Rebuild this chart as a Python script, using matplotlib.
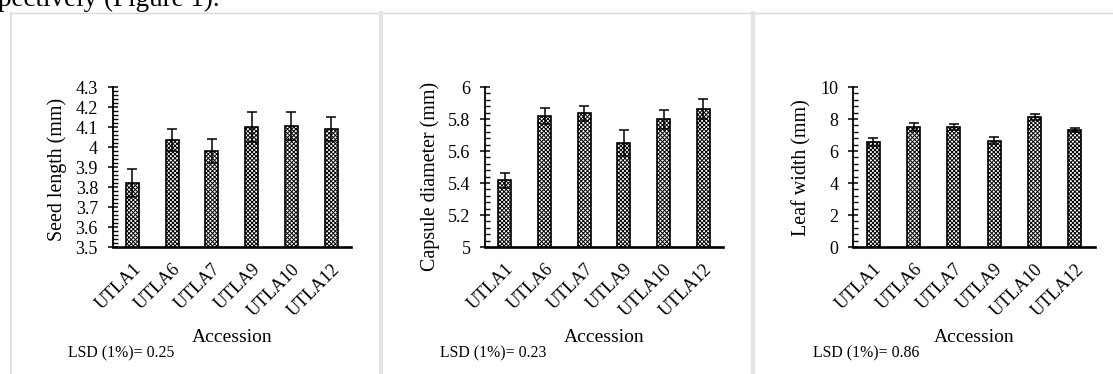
import matplotlib
matplotlib.use("Agg")
import matplotlib.pyplot as plt
from matplotlib.lines import Line2D
from matplotlib.ticker import MultipleLocator

# data
accessions = ["UTLA1", "UTLA6", "UTLA7", "UTLA9", "UTLA10", "UTLA12"]

seed_length = [3.82, 4.035, 3.98, 4.10, 4.107, 4.09]
seed_length_err = [0.07, 0.055, 0.06, 0.075, 0.07, 0.06]

capsule_diam = [5.416, 5.818, 5.835, 5.649, 5.799, 5.862]
capsule_diam_err = [0.045, 0.05, 0.045, 0.08, 0.06, 0.065]

leaf_width = [6.57, 7.49, 7.49, 6.65, 8.12, 7.30]
leaf_width_err = [0.23, 0.23, 0.18, 0.23, 0.17, 0.13]

lsd_labels = ["LSD (1%)= 0.25", "LSD (1%)= 0.23", "LSD (1%)= 0.86"]
ylabels = ["Seed length (mm)", "Capsule diameter (mm)", "Leaf width (mm)"]

W, H = 1113, 374
plt.rcParams["font.family"] = ["Liberation Serif", "DejaVu Serif"]
plt.rcParams["hatch.linewidth"] = 0.7

fig = plt.figure(figsize=(W / 100, H / 100), dpi=100)


def px_rect(left, right, top=87, bottom=247):
    return [left / W, 1 - bottom / H, (right - left) / W, (bottom - top) / H]


def fx(x):
    return x / W


def fy(y):
    return 1 - y / H


panels = [
    dict(rect=(112.5, 351), vals=seed_length, errs=seed_length_err,
         ylim=(3.5, 4.3), major=0.1, minor=0.02,
         ylab_x=57, ylab_y=169, lsd_x=68),
    dict(rect=(485, 723), vals=capsule_diam, errs=capsule_diam_err,
         ylim=(5.0, 6.0), major=0.2, minor=0.04,
         ylab_x=430, ylab_y=176, lsd_x=440),
    dict(rect=(853, 1095), vals=leaf_width, errs=leaf_width_err,
         ylim=(0, 10), major=2, minor=0.4,
         ylab_x=802, ylab_y=168, lsd_x=813),
]

x = list(range(len(accessions)))
for i, p in enumerate(panels):
    ax = fig.add_axes(px_rect(*p["rect"]))
    ax.bar(x, p["vals"], width=0.33, color="white", edgecolor="black",
           linewidth=1.2, hatch="xxxxxxxx", zorder=1)
    ax.errorbar(x, p["vals"], yerr=p["errs"], fmt="none", ecolor="black",
                elinewidth=1.1, capsize=3.8, capthick=1.1, zorder=3)
    ax.set_xlim(-0.5, 5.5)
    ax.set_ylim(*p["ylim"])
    ax.yaxis.set_major_locator(MultipleLocator(p["major"]))
    ax.yaxis.set_minor_locator(MultipleLocator(p["minor"]))
    ax.yaxis.set_major_formatter(lambda v, pos: f"{round(v, 3):g}")
    for s in ("top", "right"):
        ax.spines[s].set_visible(False)
    ax.spines["left"].set_linewidth(1.3)
    ax.spines["bottom"].set_linewidth(1.9)
    ax.tick_params(axis="y", which="major", direction="inout", length=7,
                   width=1.1, labelsize=13, pad=7)
    ax.tick_params(axis="y", which="minor", direction="in", length=3.5, width=1.0)
    ax.set_xticks(x)
    ax.set_xticklabels(accessions, rotation=45, ha="right",
                       rotation_mode="anchor", fontsize=13)
    ax.tick_params(axis="x", length=0, pad=10)

    cx = (p["rect"][0] + p["rect"][1]) / 2
    fig.text(fx(cx), fy(338), "Accession", ha="center", va="center", fontsize=14)
    fig.text(fx(p["ylab_x"]), fy(p["ylab_y"]), ylabels[i], rotation=90,
             ha="center", va="center", fontsize=14.4)
    fig.text(fx(p["lsd_x"]), fy(353), lsd_labels[i], ha="left", va="center",
             fontsize=11.4)

# light grey frame lines from the page layout
grey = "#d9d9d9"
fig.add_artist(Line2D([fx(10), 1], [fy(12.5), fy(12.5)], color=grey, lw=1.0))
fig.add_artist(Line2D([fx(10.5), fx(10.5)], [fy(12.5), 0], color=grey, lw=1.2))
fig.add_artist(Line2D([fx(381), fx(381)], [fy(12.5), 0], color="#e3e3e3", lw=3))
fig.add_artist(Line2D([fx(753), fx(753)], [fy(12.5), 0], color="#e3e3e3", lw=3))

# clipped line of body text above the figure
fig.text(fx(-2), fy(6), "pectively (Figure 1).", ha="left", va="baseline",
         fontsize=19.5)

fig.savefig("out.png", dpi=100)
